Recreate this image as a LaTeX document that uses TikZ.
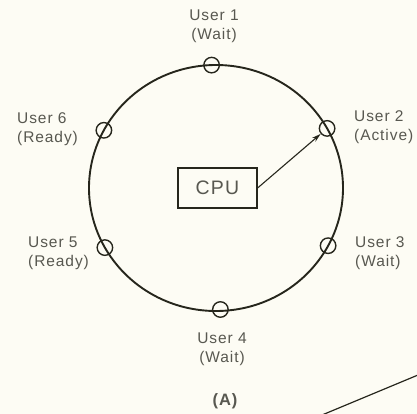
\documentclass[tikz,border=0pt]{standalone}
\usepackage{fontspec}
\setmainfont{Liberation Sans}
\newfontfamily\lblfont[LetterSpace=6]{Liberation Sans}
\usetikzlibrary{arrows.meta}
\definecolor{ink}{RGB}{38,38,28}
\definecolor{txt}{RGB}{88,88,80}
\definecolor{paper}{RGB}{253,252,244}
\tikzset{
  ring/.style={draw=ink, line width=1.9pt},
  user/.style={circle, draw=ink, line width=1.4pt, minimum size=15.5pt, inner sep=0pt},
  cpubox/.style={draw=ink, line width=1.2pt, minimum width=79pt, minimum height=40pt, inner sep=0pt,
    font=\lblfont\fontsize{19.5}{22}\selectfont, text=txt},
  lbl/.style={inner sep=0pt, text=txt, font=\lblfont\fontsize{15.5}{19}\selectfont},
  link/.style={draw=ink, line width=1.1pt, -{Stealth[length=9pt,width=5pt]}},
}
\begin{document}
\begin{tikzpicture}[x=1pt,y=-1pt]
  \useasboundingbox (0,0) rectangle (417,414);
  \fill[paper] (0,0) rectangle (417,414);

  % the ring of users around the processor
  \draw[ring] (216,188) ellipse [x radius=127pt, y radius=123pt];
  \node[user] (u1) at (211.6,65.1) {};
  \node[user] (u2) at (327.1,128.4) {};
  \node[user] (u3) at (328.1,245.7) {};
  \node[user] (u4) at (220.4,309.5) {};
  \node[user] (u5) at (104.9,247.6) {};
  \node[user] (u6) at (103.9,130.3) {};

  \node[cpubox] (cpu) at (217.5,188) {CPU};
  \draw[link] (cpu.east) -- (u2);

  % user labels
  \node[lbl, anchor=north, align=center] (l1) at (214,10) {User 1\\(Wait)};
  \node[lbl, anchor=north west, align=left] (l2) at (354,110) {User 2\\(Active)};
  \node[lbl, anchor=north west, align=left] (l3) at (355,236) {User 3\\(Wait)};
  \node[lbl, anchor=north, align=center] (l4) at (222,333) {User 4\\(Wait)};
  \node[lbl, anchor=north west, align=left] (l5) at (28,237) {User 5\\(Ready)};
  \node[lbl, anchor=north west, align=left] (l6) at (17,112) {User 6\\(Ready)};

  \node[lbl, font=\lblfont\bfseries\fontsize{16.5}{19}\selectfont] (cap) at (225,401) {(A)};

  % edge of the neighbouring figure
  \coordinate (e1) at (322,415);
  \coordinate (e2) at (418,375);
  \draw[ink, line width=1.2pt] (e1) -- (e2);
\end{tikzpicture}
\end{document}
